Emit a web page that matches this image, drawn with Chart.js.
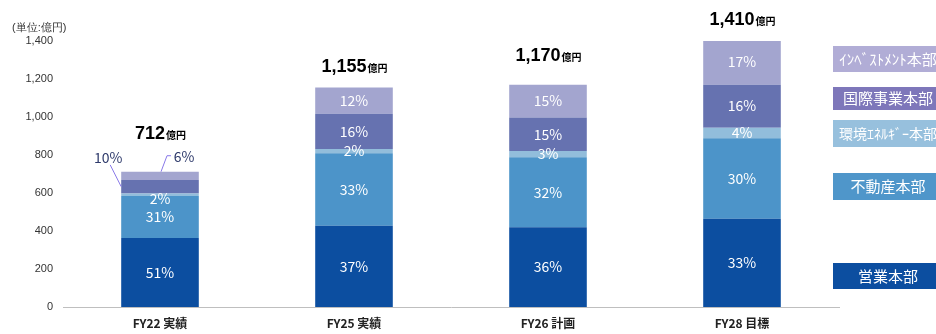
<!DOCTYPE html>
<html>
<head>
<meta charset="utf-8">
<script src="https://cdn.jsdelivr.net/npm/chart.js@4/dist/chart.umd.min.js"></script>
<style>
  html, body { margin: 0; padding: 0; background: #fff; }
  #wrap { position: relative; width: 936px; height: 334px; }
  #graph { display: block; }
  #unit { position: absolute; left: 12px; top: 20px; font: 11px "Liberation Sans", Arial, sans-serif; color: #333; }
</style>
</head>
<body>
<div id="wrap">
  <canvas id="graph" width="936" height="334"></canvas>
  <div id="unit">(単位:億円)</div>
</div>
<script>
// categories
var years = ["FY22 実績", "FY25 実績", "FY26 計画", "FY28 目標"];
var totals = [712, 1155, 1170, 1410];

// segment values (億円), bottom to top
var eigyo = [363, 428, 420, 465];
var fudosan = [221, 381, 368, 423];
var kankyo = [14, 23, 33, 56];
var kokusai = [71, 185, 177, 226];
var invest = [43, 138, 172, 240];

// share labels as printed
var eigyoPct = ["51%", "37%", "36%", "33%"];
var fudosanPct = ["31%", "33%", "32%", "30%"];
var kankyoPct = ["2%", "2%", "3%", "4%"];
var kokusaiPct = ["10%", "16%", "15%", "16%"];
var investPct = ["6%", "12%", "15%", "17%"];

var divisions = ["営業本部", "不動産本部", "環境ｴﾈﾙｷﾞｰ本部", "国際事業本部", "ｲﾝﾍﾞｽﾄﾒﾝﾄ本部"];

var barColors = ["#0c4ea0", "#4c94c9", "#92bddb", "#6672b0", "#a3a5cf"];
var boxColors = ["#0c4ea0", "#4f96ca", "#97c0dd", "#7e77ba", "#b1add6"];

var jpFont = '"Noto Sans CJK JP", "Noto Sans", sans-serif';

// percent labels inside the segments (and two outside ones on FY22)
var segmentLabels = {
    id: "segmentLabels",
    afterDatasetsDraw: function (chart) {
        var ctx = chart.ctx;
        ctx.save();
        ctx.textAlign = "center";
        ctx.textBaseline = "middle";
        ctx.font = "14px " + jpFont;
        chart.data.datasets.forEach(function (ds, di) {
            var meta = chart.getDatasetMeta(di);
            meta.data.forEach(function (bar, i) {
                var txt = ds.pctLabels[i];
                var left = bar.x - bar.width / 2;
                if (i === 0 && di === 3) {
                    var cy = (bar.y + bar.base) / 2;
                    ctx.strokeStyle = "#8878e8";
                    ctx.lineWidth = 1;
                    ctx.beginPath();
                    ctx.moveTo(left - 11, bar.y - 15);
                    ctx.lineTo(left, cy);
                    ctx.stroke();
                    ctx.fillStyle = "#2e3a6b";
                    ctx.fillText(txt, left - 13, bar.y - 22);
                    return;
                }
                if (i === 0 && di === 4) {
                    ctx.strokeStyle = "#8878e8";
                    ctx.lineWidth = 1;
                    ctx.beginPath();
                    ctx.moveTo(bar.x + 11, bar.y - 16);
                    ctx.lineTo(bar.x + 7, bar.y - 16);
                    ctx.lineTo(bar.x + 1, bar.y);
                    ctx.stroke();
                    ctx.fillStyle = "#2e3a6b";
                    ctx.fillText(txt, bar.x + 24, bar.y - 15);
                    return;
                }
                ctx.fillStyle = "#ffffff";
                var y = (bar.y + bar.base) / 2;
                if (i === 0 && di === 2) y += 4;
                ctx.fillText(txt, bar.x, y);
            });
        });
        ctx.restore();
    }
};

// totals above each bar: "1,155億円"
var totalLabels = {
    id: "totalLabels",
    afterDatasetsDraw: function (chart, args, opts) {
        var ctx = chart.ctx;
        var topMeta = chart.getDatasetMeta(chart.data.datasets.length - 1);
        ctx.save();
        ctx.fillStyle = "#000";
        ctx.textBaseline = "alphabetic";
        ctx.textAlign = "left";
        topMeta.data.forEach(function (bar, i) {
            var num = totals[i].toLocaleString("en-US");
            ctx.font = "bold 18px 'Liberation Sans', Arial, sans-serif";
            var w1 = ctx.measureText(num).width;
            ctx.font = "bold 10px " + jpFont;
            var w2 = ctx.measureText("億円").width;
            var x0 = bar.x - (w1 + w2) / 2;
            var yb = bar.y - opts.gaps[i];
            ctx.font = "bold 18px 'Liberation Sans', Arial, sans-serif";
            ctx.fillText(num, x0, yb);
            ctx.font = "bold 10px " + jpFont;
            ctx.fillText("億円", x0 + w1 + 1, yb);
        });
        ctx.restore();
    }
};

// coloured name boxes on the right
var nameBoxes = {
    id: "nameBoxes",
    afterDraw: function (chart, args, opts) {
        var ctx = chart.ctx;
        ctx.save();
        ctx.textAlign = "center";
        ctx.textBaseline = "middle";
        opts.boxes.forEach(function (b) {
            ctx.fillStyle = boxColors[b.idx];
            ctx.fillRect(833, b.top, 110, b.h);
            ctx.fillStyle = "#ffffff";
            ctx.font = b.size + "px " + jpFont;
            ctx.fillText(divisions[b.idx], 888, b.top + b.h / 2);
        });
        ctx.restore();
    }
};

function makeSet(label, data, pct, color) {
    return {
        label: label,
        data: data,
        pctLabels: pct,
        backgroundColor: color,
        borderWidth: 0,
        categoryPercentage: 1.0,
        barPercentage: 0.4
    };
}

new Chart(document.getElementById("graph"), {
    type: "bar",
    data: {
        labels: years,
        datasets: [
            makeSet(divisions[0], eigyo, eigyoPct, barColors[0]),
            makeSet(divisions[1], fudosan, fudosanPct, barColors[1]),
            makeSet(divisions[2], kankyo, kankyoPct, barColors[2]),
            makeSet(divisions[3], kokusai, kokusaiPct, barColors[3]),
            makeSet(divisions[4], invest, investPct, barColors[4])
        ]
    },
    options: {
        responsive: false,
        animation: false,
        layout: { padding: { left: 3, right: 97, top: 41, bottom: 0 } },
        plugins: {
            legend: { display: false },
            tooltip: { enabled: false },
            totalLabels: { gaps: [33, 16, 24, 14] },
            nameBoxes: {
                boxes: [
                    { idx: 4, top: 46, h: 26, size: 15 },
                    { idx: 3, top: 87, h: 23, size: 15 },
                    { idx: 2, top: 120, h: 27, size: 14 },
                    { idx: 1, top: 173, h: 27, size: 15 },
                    { idx: 0, top: 263, h: 26, size: 15 }
                ]
            }
        },
        scales: {
            x: {
                stacked: true,
                grid: { display: false, drawTicks: false },
                border: { display: true, color: "#bfbfbf", width: 1 },
                afterFit: function (scale) { scale.height = 27; },
                ticks: {
                    padding: 9,
                    color: "#222",
                    font: { family: jpFont, size: 12, weight: "bold" }
                }
            },
            y: {
                stacked: true,
                min: 0,
                max: 1400,
                grid: { display: false, drawTicks: false },
                border: { display: false },
                afterFit: function (scale) { scale.width = 60; },
                ticks: {
                    stepSize: 200,
                    padding: 10,
                    color: "#333",
                    font: { family: "'Liberation Sans', Arial, sans-serif", size: 11 }
                }
            }
        }
    },
    plugins: [segmentLabels, totalLabels, nameBoxes]
});
</script>
</body>
</html>
